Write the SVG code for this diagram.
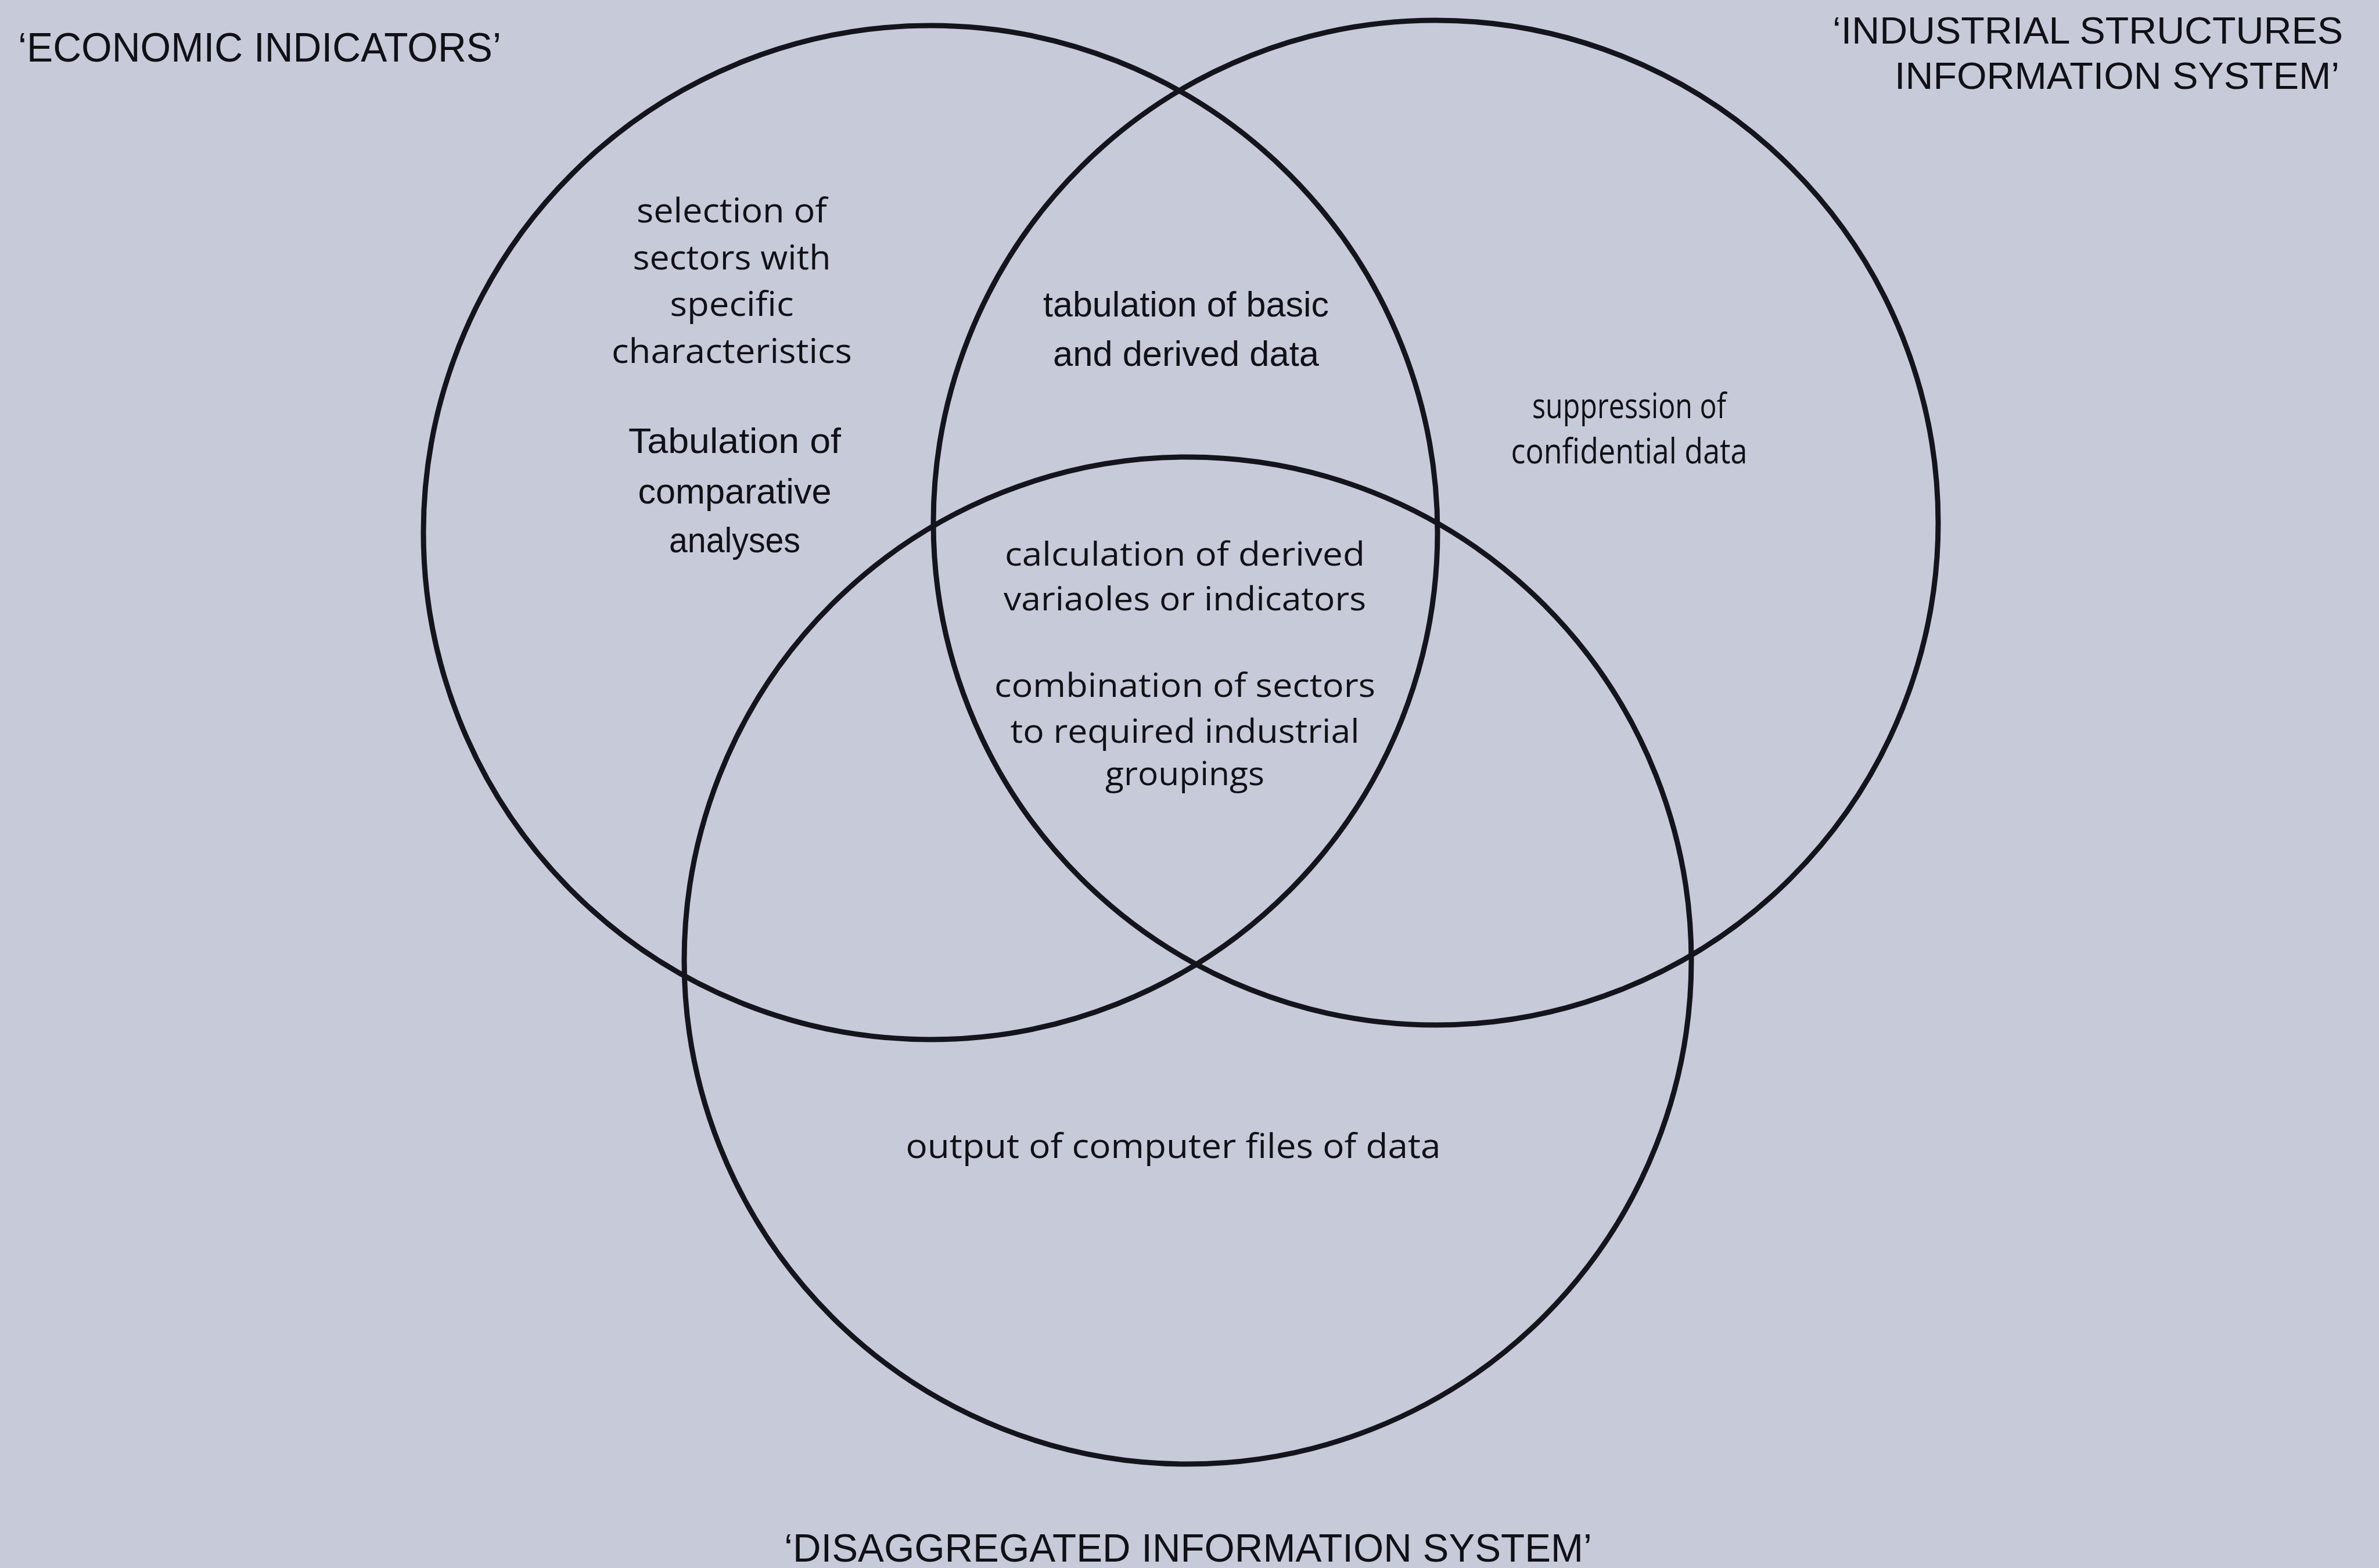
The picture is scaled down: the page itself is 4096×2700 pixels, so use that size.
<svg xmlns="http://www.w3.org/2000/svg" width="4096" height="2700" viewBox="0 0 4096 2700">
<style>
.bg{fill:#c7cad8}
.ring{fill:none;stroke:#14141d;stroke-width:9}
.cap{font-family:"Liberation Sans",Arial,sans-serif;fill:#101017}
.hum{font-family:"Open Sans","Noto Sans",sans-serif;fill:#101017}
.hel{font-family:"Liberation Sans",Arial,sans-serif;fill:#101017}
</style>
<rect class="bg" x="0" y="0" width="4096" height="2700"/>
<g id="economic-indicators">
<circle class="ring" cx="1602" cy="917" r="873"/>
<text class="cap" x="31" y="106" font-size="70" textLength="832" lengthAdjust="spacingAndGlyphs">‘ECONOMIC INDICATORS’</text>
</g>
<g id="industrial-structures-information-system">
<circle class="ring" cx="2472" cy="900" r="865"/>
<text class="cap" x="3155" y="75" font-size="65" textLength="879" lengthAdjust="spacingAndGlyphs">‘INDUSTRIAL STRUCTURES</text>
<text class="cap" x="3262" y="153" font-size="65" textLength="766" lengthAdjust="spacingAndGlyphs">INFORMATION SYSTEM’</text>
</g>
<g id="disaggregated-information-system">
<circle class="ring" cx="2045" cy="1654" r="867"/>
<text class="cap" x="1350" y="2689" font-size="68" textLength="1391" lengthAdjust="spacingAndGlyphs">‘DISAGGREGATED INFORMATION SYSTEM’</text>
</g>
<g id="connectors"></g>
<g id="selection-of-sectors" class="hum" font-size="59" text-anchor="middle">
<text x="1260" y="383" textLength="328" lengthAdjust="spacingAndGlyphs">selection of</text>
<text x="1260" y="464" textLength="341" lengthAdjust="spacingAndGlyphs">sectors with</text>
<text x="1260" y="544" textLength="213" lengthAdjust="spacingAndGlyphs">specific</text>
<text x="1260" y="625" textLength="414" lengthAdjust="spacingAndGlyphs">characteristics</text>
</g>
<g id="tabulation-comparative" class="hel" font-size="62" text-anchor="middle">
<text x="1265" y="780" textLength="366" lengthAdjust="spacingAndGlyphs">Tabulation of</text>
<text x="1265" y="867" textLength="333" lengthAdjust="spacingAndGlyphs">comparative</text>
<text x="1265" y="951" textLength="226" lengthAdjust="spacingAndGlyphs">analyses</text>
</g>
<g id="tabulation-basic" class="hel" font-size="62" text-anchor="middle">
<text x="2042" y="545" textLength="492" lengthAdjust="spacingAndGlyphs">tabulation of basic</text>
<text x="2042" y="630" textLength="458" lengthAdjust="spacingAndGlyphs">and derived data</text>
</g>
<g id="suppression" class="hum" font-size="60" text-anchor="middle">
<text x="2805" y="720" textLength="334" lengthAdjust="spacingAndGlyphs">suppression of</text>
<text x="2805" y="798" textLength="407" lengthAdjust="spacingAndGlyphs">confidential data</text>
</g>
<g id="calculation" class="hum" font-size="57" text-anchor="middle">
<text x="2040" y="974" textLength="620" lengthAdjust="spacingAndGlyphs">calculation of derived</text>
<text x="2040" y="1051" textLength="624" lengthAdjust="spacingAndGlyphs">variaoles or indicators</text>
</g>
<g id="combination" class="hum" font-size="57" text-anchor="middle">
<text x="2040" y="1200" textLength="656" lengthAdjust="spacingAndGlyphs">combination of sectors</text>
<text x="2040" y="1279" textLength="601" lengthAdjust="spacingAndGlyphs">to required industrial</text>
<text x="2040" y="1352" textLength="274" lengthAdjust="spacingAndGlyphs">groupings</text>
</g>
<g id="output-files" class="hum" font-size="59" text-anchor="middle">
<text x="2020" y="1994" textLength="921" lengthAdjust="spacingAndGlyphs">output of computer files of data</text>
</g>
</svg>
